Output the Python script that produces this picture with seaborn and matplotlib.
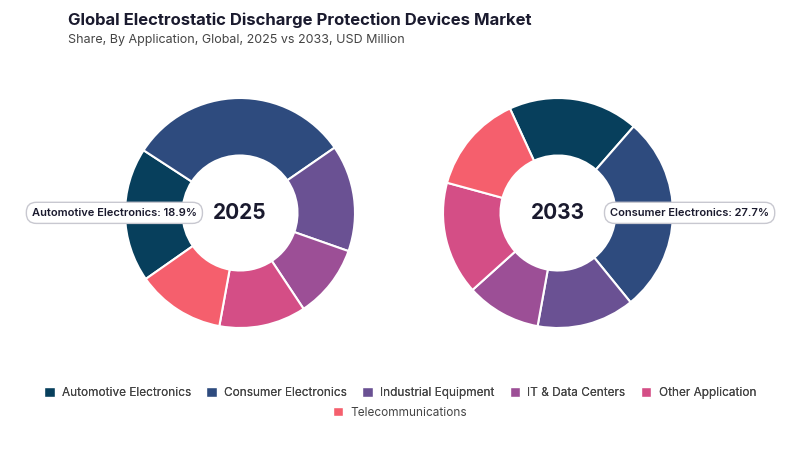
import matplotlib
matplotlib.use("Agg")
import matplotlib.pyplot as plt
import seaborn as sns
from matplotlib.patches import Patch

sns.set_theme(style="white")
plt.rcParams['font.family'] = ['Inter', 'DejaVu Sans']

categories = ["Automotive Electronics", "Consumer Electronics", "Industrial Equipment",
              "IT & Data Centers", "Other Application", "Telecommunications"]
share_2025 = [18.9, 31.2, 15.0, 10.3, 12.2, 12.4]
share_2033 = [18.3, 27.7, 13.7, 10.5, 15.9, 13.9]
colors = ["#073f5c", "#2e4b7e", "#6a5193", "#9c4f96", "#d44e86", "#f55f6d"]

fig = plt.figure(figsize=(8, 4.5), dpi=100)
fig.text(0.085, 0.945, "Global Electrostatic Discharge Protection Devices Market",
         fontsize=12, fontweight="bold", color="#1a1a2e")
fig.text(0.085, 0.905, "Share, By Application, Global, 2025 vs 2033, USD Million",
         fontsize=9, color="#444444")

# axes sized in pixels so that radius 1 = 115 px
size_px = 2 * 1.75 * 115
w, h = size_px / 800, size_px / 450
cy = 1 - 213 / 450
for cx, vals, start, year in [(240 / 800, share_2025, 215, "2025"), (558 / 800, share_2033, 114.7, "2033")]:
    ax = fig.add_axes([cx - w / 2, cy - h / 2, w, h])
    ax.pie(vals, colors=colors, startangle=start, counterclock=False, radius=1.0,
           wedgeprops=dict(width=0.5, edgecolor="white", linewidth=1.5))
    ax.set_xlim(-1.75, 1.75)
    ax.set_ylim(-1.75, 1.75)
    ax.set_aspect("equal")
    ax.text(0, 0, year, ha="center", va="center", fontsize=15, fontweight="bold", color="#1a1a2e")
    ax.axis("off")

box = dict(boxstyle="round,pad=0.5,rounding_size=0.9", fc="white", ec="#c8c8d0", lw=1)
fig.text(0.143, 0.527, f"Automotive Electronics: {share_2025[0]}%", ha="center", va="center",
         fontsize=8, fontweight="semibold", color="#1a1a2e", bbox=box)
fig.text(0.862, 0.527, f"Consumer Electronics: {share_2033[1]}%", ha="center", va="center",
         fontsize=8, fontweight="semibold", color="#1a1a2e", bbox=box)

handles = [Patch(facecolor=c, label=l) for c, l in zip(colors, categories)]
kw = dict(frameon=False, fontsize=8.5, handlelength=0.9, handleheight=0.9,
          columnspacing=1.3, handletextpad=0.6, labelcolor="#444444", loc="center")
leg1 = fig.legend(handles=handles[:5], ncol=5, bbox_to_anchor=(0.5, 0.127), **kw)
fig.add_artist(leg1)
fig.legend(handles=handles[5:], ncol=1, bbox_to_anchor=(0.5, 0.083), **kw)

fig.savefig("out.png", dpi=100, facecolor="white")
